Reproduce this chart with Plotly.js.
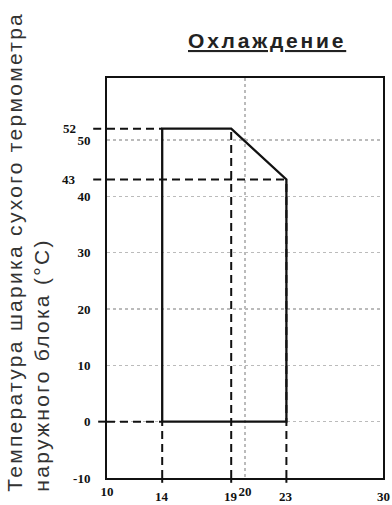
<!DOCTYPE html>
<html>
<head>
<meta charset="utf-8">
<script src="https://cdn.plot.ly/plotly-3.0.1.min.js"></script>
<style>html,body{margin:0;padding:0;background:#fff;}</style>
</head>
<body>
<div id="chart" style="width:392px;height:505px;"></div>
<script>
// Operating range polygon (outdoor dry bulb vs indoor wet bulb)
var zoneX = [14, 14, 19, 23, 23, 14];
var zoneY = [0, 52, 52, 43, 0, 0];
// guide values
var guideYs = [52, 43, 0];
var guideYEndX = [14, 23, 14];
var guideXs = [14, 19, 23];
var guideXEndY = [0, 52, 43];
// axis ticks
var yTicks = [-10, 0, 10, 20, 30, 40, 50];
var yExtraLabels = [52, 43];
var xTicksTop = [10, 20];
var xTicksLow = [14, 19, 23, 30];
var xRange = [10, 30];
var yRange = [-10, 61];

var titleText = 'Охлаждение';
var yTitleText = 'Температура шарика сухого термометра<br>наружного блока (°C)';

var dashStyle = {color: '#111', width: 2, dash: '8px,5px'};
var traces = [];
for (var i = 0; i < guideYs.length; i++) {
  traces.push({x: [xRange[0], guideYEndX[i]], y: [guideYs[i], guideYs[i]], mode: 'lines',
    line: dashStyle, hoverinfo: 'skip', showlegend: false});
}
for (var j = 0; j < guideXs.length; j++) {
  traces.push({x: [guideXs[j], guideXs[j]], y: [yRange[0], guideXEndY[j]], mode: 'lines',
    line: dashStyle, hoverinfo: 'skip', showlegend: false});
}
traces.push({x: zoneX, y: zoneY, mode: 'lines', line: {color: '#111', width: 2.3},
  hoverinfo: 'skip', showlegend: false});

var shapes = [];
var outStart = {52: -0.05, 43: -0.05, 0: -0.032};
guideYs.forEach(function (v) {
  shapes.push({type: 'line', xref: 'paper', yref: 'y', x0: outStart[v], x1: 0, y0: v, y1: v,
    line: {color: '#111', width: 2, dash: '8px,5px'}});
});
guideXs.forEach(function (v) {
  shapes.push({type: 'line', xref: 'x', yref: 'paper', x0: v, x1: v, y0: 0, y1: -0.012,
    line: {color: '#111', width: 2}});
});

var tickFont = {family: 'Liberation Serif', size: 13, color: '#111', weight: 'bold'};
var annotations = [];
yExtraLabels.forEach(function (v) {
  annotations.push({xref: 'paper', yref: 'y', x: -0.105, y: v, xanchor: 'right', yanchor: 'middle',
    text: '<b>' + v + '</b>', showarrow: false, font: tickFont});
});
xTicksLow.forEach(function (v) {
  annotations.push({xref: 'x', yref: 'paper', x: v, y: -0.022, xanchor: 'center', yanchor: 'top',
    text: '<b>' + v + '</b>', showarrow: false, font: tickFont});
});
annotations.push({xref: 'paper', yref: 'paper', x: 0.58, y: 1.095, xanchor: 'center', yanchor: 'middle',
  text: '<b><span style="text-decoration:underline;letter-spacing:2.8px">' + titleText + '</span></b>', showarrow: false,
  font: {family: 'Liberation Sans', size: 21, color: '#222'}});
annotations.push({xref: 'paper', yref: 'paper', x: -0.385, y: -0.04, xanchor: 'left', yanchor: 'bottom',
  text: '<span style="letter-spacing:2.3px">' + yTitleText.replace('<br>', '</span><br><span style="letter-spacing:2.3px">') + '</span>',
  textangle: -90, align: 'left', showarrow: false,
  font: {family: 'Liberation Sans', size: 21, color: '#333'}});

var layout = {
  width: 392, height: 505,
  margin: {l: 107, r: 9, t: 78, b: 27},
  paper_bgcolor: '#fff', plot_bgcolor: '#fff',
  showlegend: false,
  xaxis: {range: xRange, tickvals: xTicksTop, ticktext: xTicksTop.map(function (v) { return '<b>' + v + '</b>'; }),
    ticks: '', ticklabelstandoff: 0, tickfont: tickFont,
    showgrid: true, gridcolor: '#bbb', gridwidth: 1.5, griddash: 'dot',
    showline: true, mirror: true, linecolor: '#111', linewidth: 2, zeroline: false, fixedrange: true},
  yaxis: {range: yRange, tickvals: yTicks, ticktext: yTicks.map(function (v) { return '<b>' + v + '</b>'; }),
    ticks: '', ticklabelstandoff: 12, tickfont: tickFont,
    showgrid: true, gridcolor: '#bbb', gridwidth: 1.5, griddash: 'dot',
    showline: true, mirror: true, linecolor: '#111', linewidth: 2, zeroline: false, fixedrange: true},
  shapes: shapes,
  annotations: annotations
};

Plotly.newPlot('chart', traces, layout, {displayModeBar: false, staticPlot: true});
</script>
</body>
</html>
